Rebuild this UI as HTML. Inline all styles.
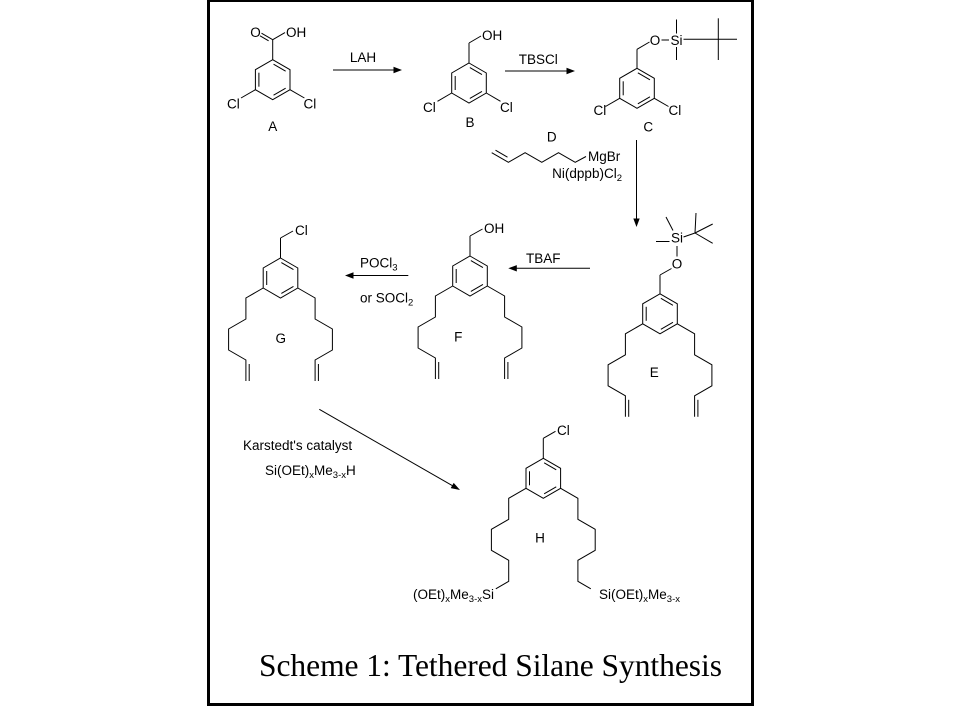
<!DOCTYPE html>
<html><head><meta charset="utf-8"><style>
html,body{margin:0;padding:0;background:#fff;}
svg{display:block;}
text{font-family:"Liberation Sans",Arial,sans-serif;font-size:13.5px;fill:#000;}
.t{font-family:"Liberation Serif","Times New Roman",serif;font-size:31.5px;}
</style></head><body>
<svg width="960" height="720" viewBox="0 0 960 720" xmlns="http://www.w3.org/2000/svg">
<defs>
<g id="ring" fill="none" stroke="#000" stroke-width="1">
<polygon points="0,-20 17.3,-10 17.3,10 0,20 -17.3,10 -17.3,-10"/>
<line x1="-13.8" y1="-7" x2="-13.8" y2="7"/>
<line x1="0.85" y1="-15.47" x2="12.95" y2="-8.47"/>
<line x1="12.95" y1="8.47" x2="0.85" y2="15.47"/>
</g>
<g id="chains" fill="none" stroke="#000" stroke-width="1">
<polyline points="-17.3,10 -34.6,20 -34.6,41 -51.9,51 -51.9,72 -34.6,82 -34.6,103"/>
<line x1="-31.3" y1="86" x2="-31.3" y2="103"/>
<polyline points="17.3,10 34.6,20 34.6,41 51.9,51 51.9,72 34.6,82 34.6,103"/>
<line x1="37.9" y1="86" x2="37.9" y2="103"/>
</g>
<g id="hchains" fill="none" stroke="#000" stroke-width="1">
<polyline points="-17.3,10 -34.6,20 -34.6,41 -51.9,51 -51.9,72 -34.6,82 -34.6,103 -47.5,110.5"/>
<polyline points="17.3,10 34.6,20 34.6,41 51.9,51 51.9,72 34.6,82 34.6,103 47.5,110.5"/>
</g>
</defs>

<rect x="208.5" y="0.5" width="544" height="704" fill="none" stroke="#000" stroke-width="3"/>

<g stroke="#000" stroke-width="1" fill="none">
<!-- A -->
<line x1="272.7" y1="59.7" x2="272.7" y2="39.7"/>
<line x1="272.7" y1="39.7" x2="261.5" y2="33.2"/>
<line x1="268.6" y1="40.8" x2="260" y2="35.8"/>
<line x1="272.7" y1="39.7" x2="285" y2="32.6"/>
<line x1="255.4" y1="89.7" x2="241" y2="98"/>
<line x1="290" y1="89.7" x2="304.4" y2="98"/>
<!-- B -->
<line x1="469" y1="63" x2="469" y2="43"/>
<line x1="469" y1="43" x2="481" y2="36"/>
<line x1="451.7" y1="93" x2="437.5" y2="101.3"/>
<line x1="486.3" y1="93" x2="500.5" y2="101.3"/>
<!-- C -->
<line x1="637" y1="68.3" x2="637" y2="49.3"/>
<line x1="637" y1="49.3" x2="649.5" y2="42"/>
<line x1="661.5" y1="40" x2="669" y2="40"/>
<line x1="676.5" y1="19.5" x2="676.5" y2="33.5"/>
<line x1="676.5" y1="47" x2="676.5" y2="60"/>
<line x1="683.5" y1="39.3" x2="737" y2="39.3"/>
<line x1="718.3" y1="18.3" x2="718.3" y2="60"/>
<line x1="619.7" y1="98.3" x2="605.5" y2="106.5"/>
<line x1="654.3" y1="98.3" x2="668.5" y2="106.5"/>
<!-- D chain -->
<polyline points="491.7,152.7 508.4,162.3 525.1,152.7 541.8,162.3 558.5,152.7 575.2,162.3 586,156.5"/>
<line x1="495.5" y1="150.2" x2="507.5" y2="157.2"/>
<!-- E -->
<line x1="677" y1="246" x2="677" y2="256.5"/>
<line x1="671.5" y1="268.5" x2="660" y2="275"/>
<line x1="660" y1="275" x2="660" y2="293.8"/>
<line x1="656" y1="241.5" x2="669.5" y2="241.5"/>
<line x1="673" y1="230.5" x2="666" y2="217"/>
<line x1="683.5" y1="237" x2="695" y2="233"/>
<line x1="695" y1="233" x2="696" y2="213"/>
<line x1="695" y1="233" x2="712.7" y2="224"/>
<line x1="695" y1="233" x2="712.7" y2="243.3"/>
<!-- F -->
<line x1="470" y1="256" x2="470" y2="236"/>
<line x1="470" y1="236" x2="482.5" y2="229"/>
<!-- G -->
<line x1="280.5" y1="258" x2="280.5" y2="238"/>
<line x1="280.5" y1="238" x2="293" y2="231"/>
<!-- H -->
<line x1="543.3" y1="458.3" x2="543.3" y2="438.3"/>
<line x1="543.3" y1="438.3" x2="555.5" y2="431.3"/>

<!-- arrows -->
<line x1="333" y1="70" x2="396" y2="70"/>
<line x1="505" y1="71" x2="569" y2="71"/>
<line x1="636.5" y1="140" x2="636.5" y2="221"/>
<line x1="590" y1="268.3" x2="514" y2="268.3"/>
<line x1="408.3" y1="275.5" x2="351" y2="275.5"/>
<line x1="319.3" y1="409.3" x2="454" y2="486.6"/>
</g>

<g fill="#000" stroke="none">
<polygon points="402,70 393.5,66.8 393.5,73.2"/>
<polygon points="575,71 566.5,67.8 566.5,74.2"/>
<polygon points="636.5,227 633.3,218.5 639.7,218.5"/>
<polygon points="508.3,268.3 516.8,265.1 516.8,271.5"/>
<polygon points="345,275.5 353.5,272.3 353.5,278.7"/>
<polygon points="460,490 450.7,488.1 453.7,482.9"/>
</g>

<use href="#ring" x="272.7" y="79.7"/>
<use href="#ring" x="469" y="83"/>
<use href="#ring" x="637" y="88.3"/>
<use href="#ring" x="660" y="313.8"/>
<use href="#chains" x="660" y="313.8"/>
<use href="#ring" x="470" y="276"/>
<use href="#chains" x="470" y="276"/>
<use href="#ring" x="280.5" y="278"/>
<use href="#chains" x="280.5" y="278"/>
<use href="#ring" x="543.3" y="478.3"/>
<use href="#hchains" x="543.3" y="478.3"/>

<!-- A labels -->
<text x="255.5" y="36.8" text-anchor="middle">O</text>
<text x="286" y="36.8">OH</text>
<text x="227" y="108.3">Cl</text>
<text x="303.5" y="108.3">Cl</text>
<text x="272.7" y="131" text-anchor="middle">A</text>
<text x="363" y="62" text-anchor="middle">LAH</text>
<!-- B -->
<text x="482" y="40">OH</text>
<text x="423" y="111.8">Cl</text>
<text x="500" y="111.8">Cl</text>
<text x="470" y="127" text-anchor="middle">B</text>
<text x="538.3" y="64" text-anchor="middle">TBSCl</text>
<!-- C -->
<text x="655" y="44.8" text-anchor="middle">O</text>
<text x="676.5" y="44.8" text-anchor="middle">Si</text>
<text x="593.5" y="115">Cl</text>
<text x="668.5" y="115">Cl</text>
<text x="648.3" y="131.5" text-anchor="middle">C</text>
<!-- D -->
<text x="551.7" y="141.5" text-anchor="middle">D</text>
<text x="588" y="161">MgBr</text>
<text x="622" y="178" text-anchor="end">Ni(dppb)Cl<tspan font-size="9.5" dy="3">2</tspan></text>
<!-- E -->
<text x="677" y="242.7" text-anchor="middle">Si</text>
<text x="677" y="268.3" text-anchor="middle">O</text>
<text x="654.3" y="377" text-anchor="middle">E</text>
<!-- TBAF -->
<text x="543.3" y="263" text-anchor="middle">TBAF</text>
<!-- F -->
<text x="484" y="233">OH</text>
<text x="458.3" y="341.5" text-anchor="middle">F</text>
<!-- POCl3 -->
<text x="360" y="267.5">POCl<tspan font-size="9.5" dy="3">3</tspan></text>
<text x="360" y="302.5">or SOCl<tspan font-size="9.5" dy="3">2</tspan></text>
<!-- G -->
<text x="295" y="235">Cl</text>
<text x="280.7" y="343" text-anchor="middle">G</text>
<!-- Karstedt -->
<text x="243" y="450">Karstedt's catalyst</text>
<text x="265" y="475">Si(OEt)<tspan font-size="9.5" dy="3">x</tspan><tspan dy="-3">Me</tspan><tspan font-size="9.5" dy="3">3-x</tspan><tspan dy="-3">H</tspan></text>
<!-- H -->
<text x="557" y="435">Cl</text>
<text x="540" y="542.5" text-anchor="middle">H</text>
<text x="494" y="599" text-anchor="end">(OEt)<tspan font-size="9.5" dy="3">x</tspan><tspan dy="-3">Me</tspan><tspan font-size="9.5" dy="3">3-x</tspan><tspan dy="-3">Si</tspan></text>
<text x="599" y="599">Si(OEt)<tspan font-size="9.5" dy="3">x</tspan><tspan dy="-3">Me</tspan><tspan font-size="9.5" dy="3">3-x</tspan></text>

<text class="t" x="259" y="676" textLength="463">Scheme 1: Tethered Silane Synthesis</text>
</svg>
</body></html>
